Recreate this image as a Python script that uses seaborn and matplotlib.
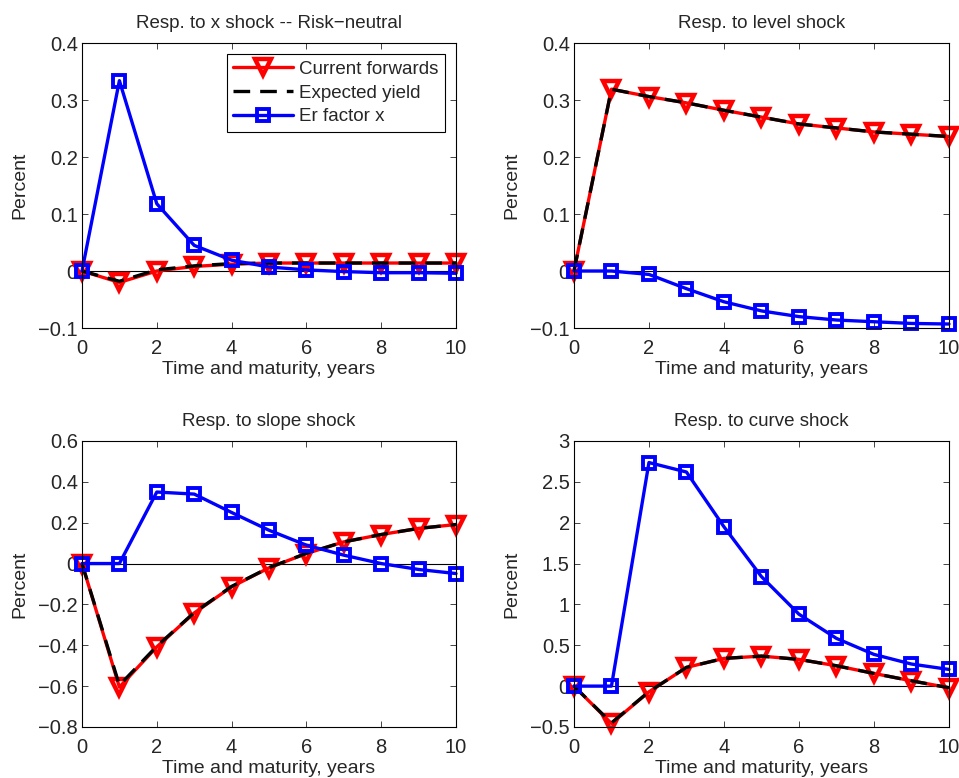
import matplotlib
matplotlib.use('Agg')
import matplotlib.pyplot as plt
import matplotlib.ticker as mticker
import seaborn as sns
import numpy as np

# maturities / time in years
years = list(range(11))

# x shock (risk-neutral)
x_fwd = [0, -0.020, 0.000, 0.008, 0.012, 0.014, 0.014, 0.014, 0.014, 0.014, 0.014]
x_exp = [0, -0.018, 0.002, 0.009, 0.013, 0.014, 0.014, 0.014, 0.014, 0.014, 0.014]
x_er = [0, 0.334, 0.118, 0.045, 0.019, 0.007, 0.002, -0.001, -0.003, -0.003, -0.004]

# level shock
lvl_fwd = [0, 0.319, 0.306, 0.295, 0.282, 0.270, 0.258, 0.251, 0.244, 0.240, 0.236]
lvl_exp = [0, 0.319, 0.306, 0.295, 0.282, 0.270, 0.258, 0.251, 0.244, 0.240, 0.236]
lvl_er = [0, 0.000, -0.006, -0.031, -0.054, -0.070, -0.080, -0.086, -0.089, -0.092, -0.093]

# slope shock
slp_fwd = [0, -0.605, -0.408, -0.242, -0.114, -0.021, 0.049, 0.106, 0.142, 0.172, 0.191]
slp_exp = [0, -0.596, -0.405, -0.240, -0.112, -0.020, 0.050, 0.106, 0.142, 0.172, 0.191]
slp_er = [0, 0.000, 0.350, 0.340, 0.250, 0.163, 0.090, 0.041, 0.000, -0.029, -0.049]

# curve shock
crv_fwd = [0, -0.457, -0.070, 0.229, 0.339, 0.367, 0.327, 0.249, 0.155, 0.065, -0.020]
crv_exp = [0, -0.450, -0.068, 0.229, 0.339, 0.367, 0.327, 0.249, 0.155, 0.065, -0.020]
crv_er = [0, 0.000, 2.736, 2.620, 1.950, 1.340, 0.880, 0.584, 0.388, 0.270, 0.204]

titles = ['Resp. to x shock -- Risk\u2212neutral', 'Resp. to level shock',
          'Resp. to slope shock', 'Resp. to curve shock']
panels = [(x_fwd, x_exp, x_er), (lvl_fwd, lvl_exp, lvl_er),
          (slp_fwd, slp_exp, slp_er), (crv_fwd, crv_exp, crv_er)]
ylims = [(-0.1, 0.4), (-0.1, 0.4), (-0.8, 0.6), (-0.5, 3)]
ysteps = [0.1, 0.1, 0.2, 0.5]
series_names = ['Current forwards', 'Expected yield', 'Er factor x']

sns.set_style('ticks')
plt.rcParams['font.family'] = ['Liberation Sans', 'DejaVu Sans']
plt.rcParams['xtick.direction'] = 'in'
plt.rcParams['ytick.direction'] = 'in'

fig = plt.figure(figsize=(9.59, 7.78), dpi=100)
positions = [
    [0.0855, 0.5784, 0.390, 0.3663],
    [0.5985, 0.5784, 0.391, 0.3663],
    [0.0855, 0.0656, 0.390, 0.3676],
    [0.5985, 0.0656, 0.391, 0.3676],
]


def tick_label(v, p):
    return f'{round(v, 6) + 0.0:g}'.replace('-', '\u2212')


for i, pos in enumerate(positions):
    ax = fig.add_axes(pos)
    fwd, exp, er = panels[i]
    ax.axhline(0, color='black', lw=0.8, zorder=1)
    sns.lineplot(x=years, y=fwd, ax=ax, color='red', lw=2.4, marker='v',
                 markersize=11.5, markerfacecolor='none', markeredgecolor='red',
                 markeredgewidth=3.2, clip_on=False,
                 label=series_names[0] if i == 0 else None)
    sns.lineplot(x=years, y=exp, ax=ax, color='black', lw=2.4, linestyle=(0, (5, 3)),
                 clip_on=False, label=series_names[1] if i == 0 else None)
    sns.lineplot(x=years, y=er, ax=ax, color='blue', lw=2.4, marker='s',
                 markersize=8, markerfacecolor='none', markeredgecolor='blue',
                 markeredgewidth=2.8, clip_on=False,
                 label=series_names[2] if i == 0 else None)
    ax.set_xlim(0, 10)
    ax.set_ylim(*ylims[i])
    ax.set_xticks(range(0, 11, 2))
    ax.set_yticks(np.arange(ylims[i][0], ylims[i][1] + 1e-9, ysteps[i]))
    ax.yaxis.set_major_formatter(mticker.FuncFormatter(tick_label))
    ax.tick_params(top=True, right=True, labelsize=14.5, length=4, width=0.6)
    ax.tick_params(axis='x', pad=8)
    ax.tick_params(axis='y', pad=3)
    for s in ax.spines.values():
        s.set_linewidth(0.8)
        s.set_color('black')
    ax.set_title(titles[i], fontsize=13.5, pad=11)
    ax.set_xlabel('Time and maturity, years', fontsize=14, labelpad=2)
    ax.set_ylabel('Percent', fontsize=14, labelpad=7)
    if i == 0:
        leg = ax.legend(loc='upper right', fontsize=13.5, frameon=True, fancybox=False,
                        edgecolor='black', framealpha=1, handlelength=3.2,
                        borderpad=0.35, labelspacing=0.35, handletextpad=0.3,
                        borderaxespad=0.6)
        leg.get_frame().set_linewidth(0.8)
    else:
        if ax.get_legend() is not None:
            ax.get_legend().remove()

fig.savefig('out.png', dpi=100)
